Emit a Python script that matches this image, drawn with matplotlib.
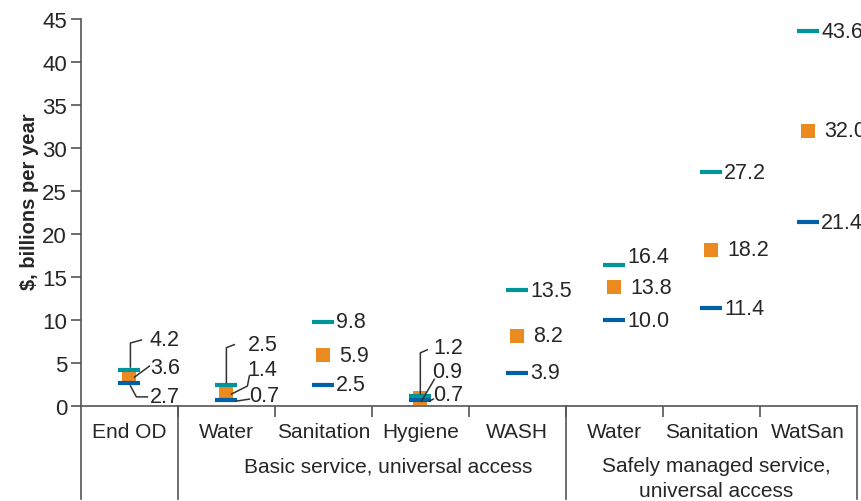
import numpy as np
import matplotlib
matplotlib.use('Agg')
import matplotlib.pyplot as plt
import matplotlib.transforms as mtransforms

plt.rcParams['font.family'] = ['Liberation Sans', 'DejaVu Sans']

# data
categories = ['End OD', 'Water', 'Sanitation', 'Hygiene', 'WASH', 'Water', 'Sanitation', 'WatSan']
group_basic = ['Basic service, universal access']
group_safe = ['Safely managed service,', 'universal access']
low = [2.7, 0.7, 2.5, 0.7, 3.9, 10.0, 11.4, 21.4]
mid = [3.6, 1.4, 5.9, 0.9, 8.2, 13.8, 18.2, 32.0]
high = [4.2, 2.5, 9.8, 1.2, 13.5, 16.4, 27.2, 43.6]

TEAL = '#00959B'
ORANGE = '#EA8A1F'
BLUE = '#0061A8'
TXT = '#262626'
AX = '#555555'

fig = plt.figure(figsize=(8.61, 5.02), dpi=100)
ax = fig.add_axes([0.094, 0.189, 0.901, 0.771])

x = np.arange(len(categories))
ax.scatter(x, mid, marker='s', s=100, color=ORANGE, linewidths=0, zorder=3)
ax.scatter(x, low, marker='_', s=256, color=BLUE, linewidths=3, zorder=4)
ax.scatter(x, high, marker='_', s=256, color=TEAL, linewidths=3, zorder=5)

ax.set_xlim(-0.5, 7.5)
ax.set_ylim(0, 45)
ax.set_yticks(np.arange(0, 46, 5))
ax.tick_params(axis='y', labelsize=16, colors=AX, labelcolor=TXT, length=7, width=1.2, pad=3)
ax.set_xticks([])
ax.set_xticks(np.arange(0.5, 7, 1), minor=True)
ax.tick_params(axis='x', which='minor', length=8, width=1.2, colors=AX, direction='out')
for s in ['top', 'right']:
    ax.spines[s].set_visible(False)
for s in ['left', 'bottom']:
    ax.spines[s].set_color(AX)
    ax.spines[s].set_linewidth(1.2)
ax.set_ylabel('$, billions per year', fontsize=14.5, fontweight='bold', color=TXT)
ax.yaxis.set_label_coords(-0.054, 0.53)

# separators below the axis
btr = mtransforms.blended_transform_factory(ax.transData, fig.transFigure)
for xs in [-0.5, 0.5, 4.5, 7.5]:
    ax.plot([xs, xs], [0.189, 0.004], transform=btr, color=AX, lw=1.2, clip_on=False)

for i, c in enumerate(categories):
    ax.text(i, 0.139, c, transform=btr, ha='center', va='center', fontsize=15, color=TXT)
ax.text(2.67, 0.07, group_basic[0], transform=btr, ha='center', va='center', fontsize=15, color=TXT)
for k, line in enumerate(group_safe):
    ax.text(6.05, 0.07 - 0.05 * k, line, transform=btr, ha='center', va='center',
            fontsize=15, color=TXT)

fig.canvas.draw()


def to_data(i, v, offs):
    base = ax.transData.transform((i, v))
    pts = [base + np.array([dx, -dy]) for dx, dy in offs]
    return ax.transData.inverted().transform(pts)


# pixel offsets (dx, dy down) for labels with leader lines
leaders = {
    0: {'high': ([(1, -3), (1, -27), (12, -30)], (20, -30)),
        'mid': ([(5, 2), (20, -9)], (21, -8)),
        'low': ([(1, 3), (7, 14), (18, 14)], (20, 14))},
    1: {'high': ([(0, -2), (0, -37), (8, -40)], (21, -40)),
        'mid': ([(5, 0), (21, -8), (23, -18)], (21, -25)),
        'low': ([(10, 1), (23, -1)], (23, -5))},
    3: {'high': ([(0, -2), (0, -43), (7, -46)], (13, -48)),
        'mid': ([(1, 3), (14, -19)], (12, -27)),
        'low': ([(9, 1), (13, -1)], (13, -6))},
}

for i in range(len(categories)):
    for key, vals in [('high', high), ('mid', mid), ('low', low)]:
        v = vals[i]
        if i in leaders:
            path, toff = leaders[i][key]
            p = to_data(i, v, path)
            ax.plot(p[:, 0], p[:, 1], color='#333333', lw=1.1, clip_on=False, zorder=6)
            tx, ty = to_data(i, v, [toff])[0]
        else:
            dx = 16 if key == 'mid' else 13
            dy = -9 if (i == 5 and key == 'high') else 0
            tx, ty = to_data(i, v, [(dx, dy)])[0]
        ax.text(tx, ty, f'{v:.1f}', ha='left', va='center', fontsize=15.5, color=TXT,
                clip_on=False, zorder=7)

fig.savefig('out.png', dpi=100)
